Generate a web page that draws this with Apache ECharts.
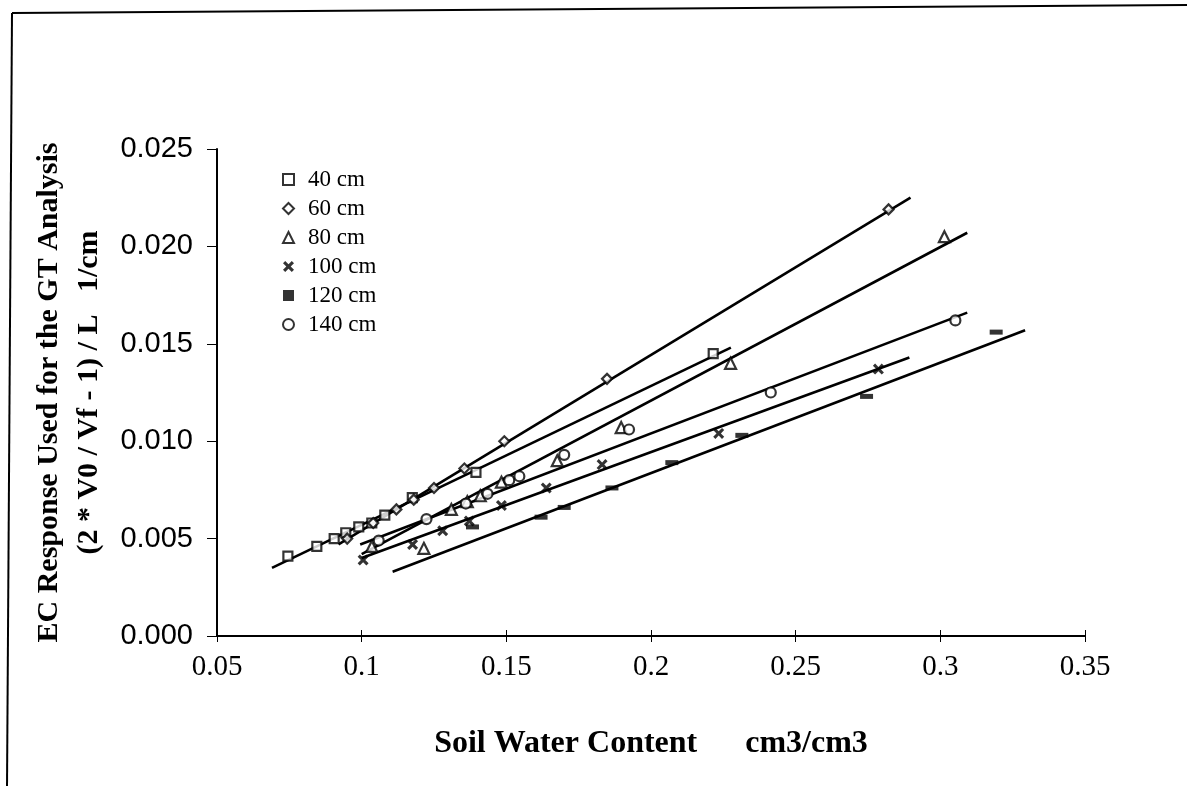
<!DOCTYPE html>
<html>
<head>
<meta charset="utf-8">
<script src="https://cdn.jsdelivr.net/npm/echarts@6/dist/echarts.min.js"></script>
<style>
  html, body { margin:0; padding:0; background:#fff; }
  #chart { width:1187px; height:786px; }
</style>
</head>
<body>
<div id="chart"></div>
<script>
// depth series (soil water content vs EC response)
var depths = ['40 cm', '60 cm', '80 cm', '100 cm', '120 cm', '140 cm'];

var x40 = [0.0745, 0.0845, 0.0905, 0.0945, 0.099, 0.1035, 0.108, 0.1175, 0.1395, 0.2215];
var y40 = [0.0041, 0.0046, 0.0050, 0.0053, 0.0056, 0.0058, 0.0062, 0.0071, 0.0084, 0.0145];
var x60 = [0.095, 0.104, 0.112, 0.118, 0.125, 0.1355, 0.1493, 0.1848, 0.2821];
var y60 = [0.0050, 0.0058, 0.0065, 0.0070, 0.0076, 0.0086, 0.0100, 0.0132, 0.0219];
var x80 = [0.1035, 0.1215, 0.131, 0.1365, 0.141, 0.1483, 0.1676, 0.1897, 0.2275, 0.3014];
var y80 = [0.0046, 0.0045, 0.0065, 0.0069, 0.0072, 0.0079, 0.0090, 0.0107, 0.0140, 0.0205];
var x100 = [0.1005, 0.1176, 0.128, 0.1372, 0.1483, 0.1638, 0.1831, 0.2234, 0.2786];
var y100 = [0.0039, 0.0047, 0.0054, 0.0059, 0.0067, 0.0076, 0.0088, 0.0104, 0.0137];
var x120 = [0.1383, 0.162, 0.17, 0.1865, 0.2072, 0.2314, 0.2745, 0.3193];
var y120 = [0.0056, 0.0061, 0.0066, 0.0076, 0.0089, 0.0103, 0.0123, 0.0156];
var x140 = [0.1059, 0.1224, 0.136, 0.1435, 0.151, 0.1545, 0.17, 0.1924, 0.2414, 0.3052];
var y140 = [0.0049, 0.0060, 0.0068, 0.0073, 0.0080, 0.0082, 0.0093, 0.0106, 0.0125, 0.0162];

// fitted lines, end points
var fitX40 = [0.069, 0.2276],  fitY40 = [0.0035, 0.0148];
var fitX60 = [0.092, 0.2897],  fitY60 = [0.0047, 0.0225];
var fitX80 = [0.100, 0.3093],  fitY80 = [0.0042, 0.0207];
var fitX100 = [0.100, 0.2893], fitY100 = [0.0040, 0.0143];
var fitX120 = [0.1107, 0.3293], fitY120 = [0.0033, 0.0157];
var fitX140 = [0.0995, 0.3093], fitY140 = [0.0047, 0.0166];

function pairs(xs, ys){
    var out = [];
    for (var i = 0; i < xs.length; i++) out.push([xs[i], ys[i]]);
    return out;
}

var serif = 'Liberation Serif';
var sans = 'Liberation Sans';
var crossPath = 'path://M0,2 L2,0 L5,3 L8,0 L10,2 L7,5 L10,8 L8,10 L5,7 L2,10 L0,8 L3,5 Z';

var hollow = { color:'#fff', borderColor:'#000', borderWidth:2.2 };
var solid = { color:'#000' };

var pts = [
    { name: depths[0], data: pairs(x40, y40), symbol:'rect', size:9, style: hollow },
    { name: depths[1], data: pairs(x60, y60), symbol:'diamond', size:10, style: hollow },
    { name: depths[2], data: pairs(x80, y80), symbol:'triangle', size:11, style: hollow },
    { name: depths[3], data: pairs(x100, y100), symbol:crossPath, size:11, style: solid },
    { name: depths[4], data: pairs(x120, y120), symbol:'rect', size:[13,5], style: solid },
    { name: depths[5], data: pairs(x140, y140), symbol:'circle', size:10, style: hollow }
];
var fits = [
    pairs(fitX40, fitY40), pairs(fitX60, fitY60), pairs(fitX80, fitY80),
    pairs(fitX100, fitY100), pairs(fitX120, fitY120), pairs(fitX140, fitY140)
];

var series = [];
fits.forEach(function(f){
    series.push({
        type:'line', data:f, symbol:'none', silent:true, z:2,
        lineStyle:{ color:'#000', width:2.6 }
    });
});
pts.forEach(function(p){
    series.push({
        name:p.name, type:'scatter', data:p.data, symbol:p.symbol, symbolSize:p.size,
        itemStyle:p.style, z:5
    });
});

var chart = echarts.init(document.getElementById('chart'));
var option = {
    backgroundColor:'#fff',
    animation:false,
    grid:{ left:217, right:102, top:149, bottom:150 },
    legend:{
        data:depths,
        orient:'vertical',
        left:277, top:163,
        itemGap:6,
        itemWidth:11, itemHeight:11,
        textStyle:{ fontFamily:serif, fontSize:23, color:'#000', padding:[0,0,0,9] }
    },
    xAxis:[{
        type:'value', min:0.05, max:0.35, interval:0.05,
        axisLine:{ lineStyle:{ color:'#000', width:2 } },
        axisTick:{ length:6, lineStyle:{ color:'#000' } },
        splitLine:{ show:false },
        axisLabel:{
            margin:17, fontFamily:serif, fontSize:29, color:'#000',
            formatter:function(v){ return String(parseFloat(v.toFixed(2))); }
        },
        name:'Soil Water Content      cm3/cm3',
        nameLocation:'middle', nameGap:92,
        nameTextStyle:{ fontFamily:serif, fontSize:32, fontWeight:'bold', color:'#000' }
    }, {
        // inner half of the crossing ticks
        type:'value', position:'bottom', min:0.05, max:0.35, interval:0.05,
        axisLine:{ show:false },
        axisTick:{ show:true, inside:true, length:6, lineStyle:{ color:'#000' } },
        axisLabel:{ show:false },
        splitLine:{ show:false }
    }],
    yAxis:{
        type:'value', min:0, max:0.025, interval:0.005,
        axisLine:{ show:true, lineStyle:{ color:'#000', width:2 } },
        axisTick:{ show:true, length:10, lineStyle:{ color:'#000' } },
        splitLine:{ show:false },
        axisLabel:{
            margin:24, fontFamily:sans, fontSize:29, color:'#000',
            formatter:function(v){ return v.toFixed(3); }
        },
        name:'EC Response Used for the GT Analysis\n(2 * V0 / Vf - 1) / L   1/cm',
        nameLocation:'middle', nameGap:104, nameRotate:90,
        nameTextStyle:{ fontFamily:serif, fontSize:30, fontWeight:'bold', color:'#000', lineHeight:40, align:'center' }
    },
    graphic:[
        { type:'line', shape:{ x1:12, y1:13, x2:7, y2:786 }, style:{ stroke:'#000', lineWidth:2 } },
        { type:'line', shape:{ x1:12, y1:13, x2:1187, y2:5 }, style:{ stroke:'#000', lineWidth:2 } }
    ],
    series:series
};
chart.setOption(option);
</script>
</body>
</html>
